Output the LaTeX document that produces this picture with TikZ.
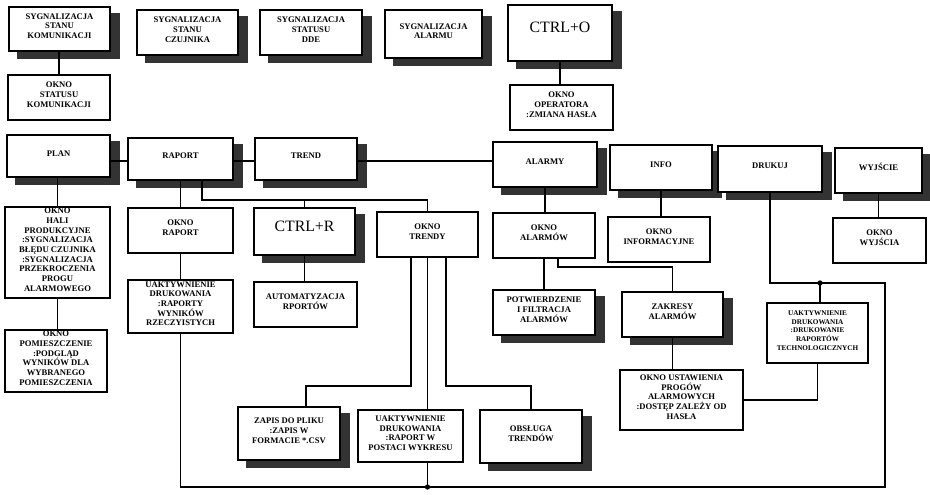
\documentclass[tikz,border=0pt]{standalone}
\usepackage{fontspec}
\setmainfont{Liberation Serif}
\usetikzlibrary{fit,backgrounds}

\begin{document}
\begin{tikzpicture}[x=0.04cm, y=-0.04cm,
    every node/.style={font=\fontsize{9.8}{11}\selectfont\bfseries, align=center},
    box/.style={draw, line width=1.4pt, fill=white, inner sep=0pt},
    key/.style={font=\fontsize{18}{20}\selectfont},
    small/.style={font=\fontsize{8.2}{10.2}\selectfont\bfseries},
    link/.style={line width=1.5pt}]
    \useasboundingbox (0,0) rectangle (930,494);

    % top row
    \node[box, fit={(9,7) (110,51)}] (sygkom) {SYGNALIZACJA\\STANU\\KOMUNIKACJI};
    \node[box, fit={(137,10) (238,55)}] (sygczu) {SYGNALIZACJA\\STANU\\CZUJNIKA};
    \node[box, fit={(260,10) (362,55)}] (sygdde) {SYGNALIZACJA\\STATUSU\\DDE};
    \node[box, fit={(385,10) (482,58)}] (sygalm) {SYGNALIZACJA\\ALARMU};
    \node[box, key, fit={(508,5) (612,61)}] (ctrlo) {CTRL+O};
    \node[box, fit={(8,75) (110,120)}] (okstat) {OKNO\\STATUSU\\KOMUNIKACJI};
    \node[box, fit={(510,85) (613,130)}] (okoper) {OKNO\\OPERATORA\\:ZMIANA HASŁA};

    % menu
    \node[box, fit={(7,135) (110,177)}] (plan) {PLAN};
    \node[box, fit={(128,138) (233,180)}] (raport) {RAPORT};
    \node[box, fit={(255,138) (357,180)}] (trend) {TREND};
    \node[box, fit={(493,142) (597,187)}] (alarmy) {ALARMY};
    \node[box, fit={(610,145) (712,190)}] (info) {INFO};
    \node[box, fit={(718,146) (822,192)}] (drukuj) {DRUKUJ};
    \node[box, fit={(835,148) (922,193)}] (wyjscie) {WYJŚCIE};

    % windows
    \node[box, fit={(5,207) (110,298)}] (okhali) {OKNO\\HALI\\PRODUKCYJNE\\:SYGNALIZACJA\\BŁĘDU CZUJNIKA\\:SYGNALIZACJA\\PRZEKROCZENIA\\PROGU\\ALARMOWEGO};
    \node[box, fit={(5,330) (107,392)}] (okpom) {OKNO\\POMIESZCZENIE\\:PODGLĄD\\WYNIKÓW DLA\\WYBRANEGO\\POMIESZCZENIA};
    \node[box, fit={(128,208) (233,253)}] (okrap) {OKNO\\RAPORT};
    \node[box, fit={(128,280) (233,333)}] (uakrap) {UAKTYWNIENIE\\DRUKOWANIA\\:RAPORTY\\WYNIKÓW\\RZECZYISTYCH};
    \node[box, key, fit={(254,208) (355,255)}] (ctrlr) {CTRL+R};
    \node[box, fit={(254,282) (357,327)}] (autom) {AUTOMATYZACJA\\RPORTÓW};
    \node[box, fit={(377,212) (478,257)}] (oktrend) {OKNO\\TRENDY};
    \node[box, fit={(238,407) (340,460)}] (zapis) {ZAPIS DO PLIKU\\:ZAPIS W\\FORMACIE *.CSV};
    \node[box, fit={(358,410) (463,462)}] (uakwyk) {UAKTYWNIENIE\\DRUKOWANIA\\:RAPORT W\\POSTACI WYKRESU};
    \node[box, fit={(480,410) (582,463)}] (obsl) {OBSŁUGA\\TRENDÓW};
    \node[box, fit={(493,213) (595,258)}] (okalm) {OKNO\\ALARMÓW};
    \node[box, fit={(493,290) (595,335)}] (potw) {POTWIERDZENIE\\I FILTRACJA\\ALARMÓW};
    \node[box, fit={(622,292) (723,337)}] (zakr) {ZAKRESY\\ALARMÓW};
    \node[box, fit={(620,370) (743,430)}] (okust) {OKNO USTAWIENIA\\PROGÓW\\ALARMOWYCH\\:DOSTĘP ZALEŻY OD\\HASŁA};
    \node[box, fit={(608,217) (710,262)}] (okinfo) {OKNO\\INFORMACYJNE};
    \node[box, fit={(833,218) (926,263)}] (okwyj) {OKNO\\WYJŚCIA};
    \node[box, small, fit={(767,303) (868,363)}] (uaktech) {UAKTYWNIENIE\\DRUKOWANIA\\:DRUKOWANIE\\RAPORTÓW\\TECHNOLOGICZNYCH};

    % shadows
    \begin{scope}[on background layer]
      \foreach \n in {sygkom,sygczu,sygdde,sygalm,ctrlo,plan,raport,trend,alarmy,
                      info,drukuj,wyjscie,ctrlr,zapis,obsl,potw,zakr}
        \fill[black!80] ([shift={(9,7)}]\n.north west) rectangle ([shift={(9,7)}]\n.south east);
    \end{scope}

    % helper points
    \coordinate (menu) at (0,161);
    \coordinate (rb) at (202,200);
    \coordinate (tl) at (411,386);
    \coordinate (tr) at (446,386);
    \coordinate (zp) at (306,0);
    \coordinate (ab) at (558,267);
    \coordinate (bus) at (0,487);
    \coordinate (tbus) at (820,283);
    \coordinate (rx) at (885,0);

    % links
    \draw[link] (sygkom.south -| okstat.north) -- (okstat.north);
    \draw[link] (ctrlo.south) -- (ctrlo.south |- okoper.north);
    \draw[link] (plan.east |- menu) -- (raport.west |- menu);
    \draw[link] (raport.east |- menu) -- (trend.west |- menu);
    \draw[link] (trend.east |- menu) -- (alarmy.west |- menu);
    \draw[link] (plan.south -| okhali.north) -- (okhali.north);
    \draw[link] (okhali.south) -- (okhali.south |- okpom.north);
    \draw[link] (raport.south) -- (raport.south |- okrap.north);
    \draw[link] (okrap.south) -- (okrap.south |- uakrap.north);
    \draw[link] (raport.south -| rb) -- (rb) -| (oktrend.north);
    \draw[link] (rb -| ctrlr.north) -- (ctrlr.north);
    \draw[link] (ctrlr.south) -- (ctrlr.south |- autom.north);
    \draw[link] (oktrend.south -| tl) -- (tl) -| (zapis.north -| zp);
    \draw[link] (oktrend.south -| tr) -- (tr) -| (obsl.north);
    \draw[link] (oktrend.south) -- (oktrend.south |- uakwyk.north);
    \draw[link] (alarmy.south) -- (alarmy.south |- okalm.north);
    \draw[link] (okalm.south -| potw.north) -- (potw.north);
    \draw[link] (okalm.south -| ab) -- (ab) -| (zakr.north);
    \draw[link] (zakr.south) -- (zakr.south |- okust.north);
    \draw[link] (uaktech.south) |- (okust.east);
    \draw[link] (info.south) -- (info.south |- okinfo.north);
    \draw[link] (wyjscie.south) -- (wyjscie.south |- okwyj.north);

    % print bus
    \draw[link] (uakrap.south) -- (uakrap.south |- bus) -- (rx |- bus) -- (rx |- tbus) -| (drukuj.south);
    \draw[link] (oktrend.south |- uakwyk.south) -- (oktrend.south |- bus);
    \draw[link] (tbus) -- (tbus |- uaktech.north);
    \fill (oktrend.south |- bus) circle (3pt);
    \fill (tbus) circle (3pt);
\end{tikzpicture}
\end{document}
